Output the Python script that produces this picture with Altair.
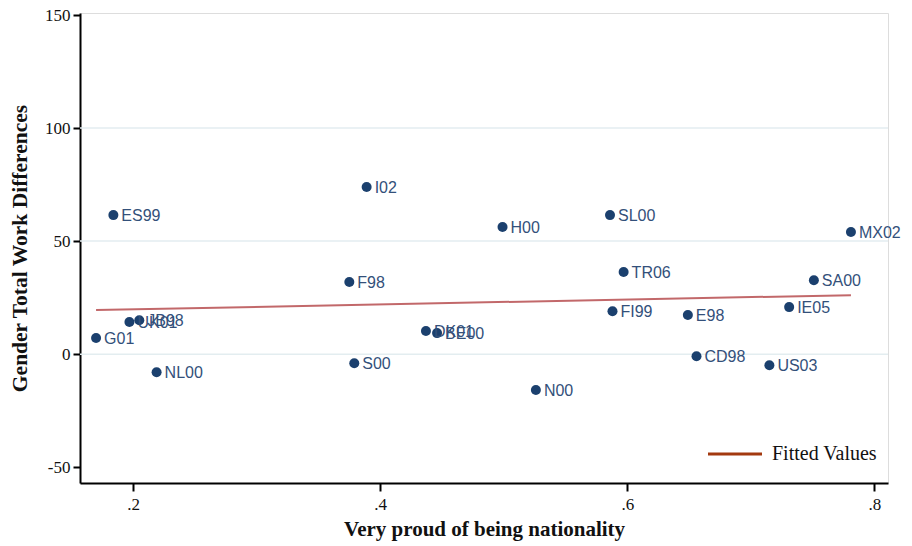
import altair as alt
import pandas as pd

labels = ["ES99", "I02", "H00", "SL00", "MX02", "F98", "TR06", "SA00", "FI99", "E98",
          "IE05", "G01", "UK01", "JB98", "NL00", "DK01", "BE00", "S00", "N00", "CD98", "US03"]
proud = [0.184, 0.389, 0.499, 0.586, 0.781, 0.375, 0.597, 0.751, 0.588, 0.649,
         0.731, 0.170, 0.197, 0.205, 0.219, 0.437, 0.446, 0.379, 0.526, 0.656, 0.715]
gender_diff = [61.5, 73.9, 56.2, 61.5, 54.0, 31.9, 36.3, 32.7, 19.0, 17.3,
               20.8, 7.1, 14.2, 15.0, -8.0, 10.2, 9.3, -4.0, -15.9, -0.9, -4.9]

fit_x = [0.170, 0.781]
fit_y = [19.5, 26.1]

grid_vals = [0, 50, 100]

df = pd.DataFrame({"label": labels, "x": proud, "y": gender_diff})
fit = pd.DataFrame({"x": fit_x, "y": fit_y})
grid = pd.DataFrame({"g": grid_vals})

xscale = alt.Scale(domain=[0.157, 0.811], nice=False, zero=False)
yscale = alt.Scale(domain=[-57, 150.9], nice=False, zero=False)

xaxis = alt.Axis(
    title="Very proud of being nationality",
    values=[0.2, 0.4, 0.6, 0.8],
    labelExpr="replace(format(datum.value, '.1f'), '0.', '.')",
    grid=False, domainColor="#000", domainWidth=2, tickColor="#000", tickWidth=2,
    tickSize=8, labelFont="Liberation Serif", labelFontSize=17, labelColor="#111",
    labelPadding=5, titleFont="Liberation Serif", titleFontSize=21, titleFontWeight="bold",
    titleColor="#111", titlePadding=6,
)
yaxis = alt.Axis(
    title="Gender Total Work Differences",
    values=[-50, 0, 50, 100, 150],
    labelExpr="datum.value < 0 ? '-' + abs(datum.value) : '' + datum.value",
    grid=False, domainColor="#000", domainWidth=2, tickColor="#000", tickWidth=2,
    tickSize=7, labelFont="Liberation Serif", labelFontSize=17, labelColor="#111",
    labelPadding=3, titleFont="Liberation Serif", titleFontSize=21.5, titleFontWeight="bold",
    titleColor="#111", titlePadding=13,
)

gridlines = alt.Chart(grid).mark_rule(color="#e3edf0", strokeWidth=1.5).encode(
    y=alt.Y("g:Q", scale=yscale, axis=yaxis)
)

fitline = alt.Chart(fit).mark_line(color="#c2686a", strokeWidth=2).encode(
    x=alt.X("x:Q", scale=xscale, axis=xaxis),
    y=alt.Y("y:Q", scale=yscale),
)

points = alt.Chart(df).mark_circle(size=100, color="#1b406e", opacity=1).encode(
    x=alt.X("x:Q", scale=xscale),
    y=alt.Y("y:Q", scale=yscale),
)

texts = alt.Chart(df).mark_text(
    align="left", baseline="middle", dx=8, dy=1,
    font="Liberation Sans", fontSize=16, color="#33507a",
).encode(
    x=alt.X("x:Q", scale=xscale),
    y=alt.Y("y:Q", scale=yscale),
    text="label:N",
)

legend_line = alt.Chart(pd.DataFrame({"k": ["Fitted Values"]})).mark_rule(
    color="#a3390f", strokeWidth=3
).encode(x=alt.value(628), x2=alt.value(682), y=alt.value(441))

legend_text = alt.Chart(pd.DataFrame({"k": ["Fitted Values"]})).mark_text(
    align="left", baseline="middle", font="Liberation Serif", fontSize=20, color="#111"
).encode(x=alt.value(692), y=alt.value(441), text="k:N")

chart = alt.layer(gridlines, fitline, points, texts, legend_line, legend_text).properties(
    width=808, height=470,
    autosize=alt.AutoSizeParams(type="none"),
    padding={"left": 72, "top": 5, "right": 16, "bottom": 61},
).configure_view(stroke=None).configure(background="white")

chart.save("out.html", embed_options={"renderer": "svg", "actions": False})
